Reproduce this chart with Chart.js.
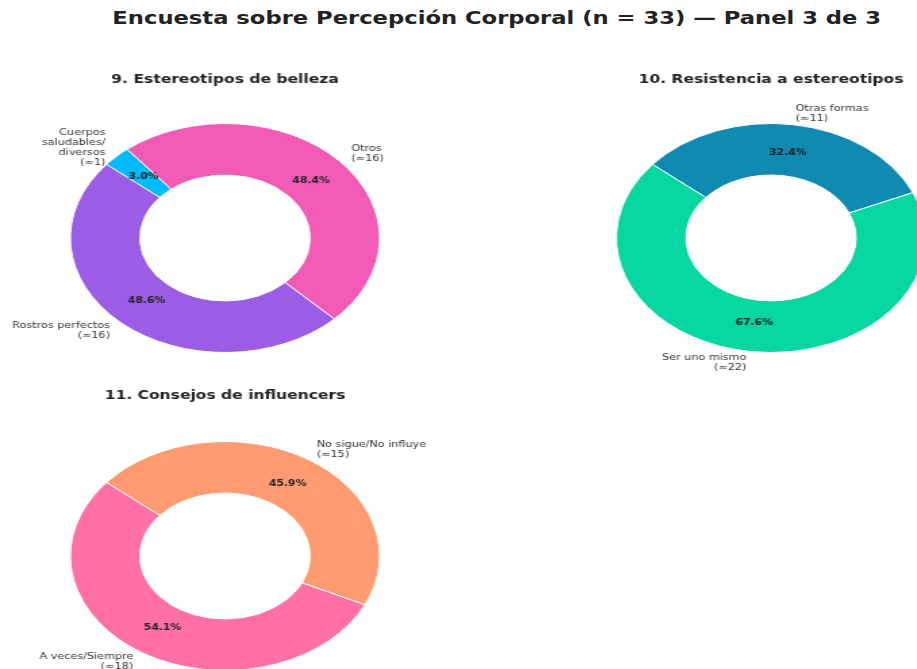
<!DOCTYPE html>
<html>
<head>
<meta charset="utf-8">
<script src="https://cdn.jsdelivr.net/npm/chart.js@4/dist/chart.umd.min.js"></script>
<style>
  html, body { margin: 0; padding: 0; background: #fff; overflow: hidden; width: 917px; height: 669px; }
  #titulo { position: absolute; left: 0; top: 8px; width: 993px; text-align: center;
            font: bold 16.8px "DejaVu Sans", sans-serif; color: #222; white-space: nowrap; }
  #titulo span { display: inline-block; transform: scaleX(1.35); transform-origin: center; }
  canvas { position: absolute; }
</style>
</head>
<body>
<div id="titulo"><span>Encuesta sobre Percepción Corporal (n = 33) — Panel 3 de 3</span></div>
<canvas id="c9"></canvas>
<canvas id="c10"></canvas>
<canvas id="c11"></canvas>
<script>
// --- datos ---
const est_labels = ['Cuerpos\nsaludables/\ndiversos\n(≈1)', 'Otros\n(≈16)', 'Rostros perfectos\n(≈16)'];
const est_values = [3.0, 48.4, 48.6];
const est_colors = ['#00BBF9', '#F15BB5', '#9B5DE5'];

const res_labels = ['Otras formas\n(≈11)', 'Ser uno mismo\n(≈22)'];
const res_values = [32.4, 67.6];
const res_colors = ['#118AB2', '#06D6A0'];

const inf_labels = ['No sigue/No influye\n(≈15)', 'A veces/Siempre\n(≈18)'];
const inf_values = [45.9, 54.1];
const inf_colors = ['#FF9B71', '#FF70A6'];

const SX = 1.35; // la figura original esta estirada en horizontal

// textos de cada dona: titulo, etiquetas fuera y porcentajes dentro
const textosDona = {
    id: 'textosDona',
    afterDraw(chart, args, opts) {
        const ctx = chart.ctx;
        const meta = chart.getDatasetMeta(0);
        const labels = chart.data.labels;
        const vals = chart.data.datasets[0].data;
        ctx.save();
        ctx.fillStyle = '#222';
        ctx.textAlign = 'center';
        ctx.textBaseline = 'middle';
        ctx.font = 'bold 11.5px "DejaVu Sans"';
        const a0 = meta.data[0];
        ctx.fillText(opts.titulo, a0.x, opts.tituloY);

        meta.data.forEach(function (arc, i) {
            const p = arc.getProps(['x', 'y', 'startAngle', 'endAngle', 'outerRadius']);
            const mid = (p.startAngle + p.endAngle) / 2;
            const cx = Math.cos(mid), cy = Math.sin(mid);
            // porcentaje
            ctx.font = 'bold 8px "DejaVu Sans"';
            ctx.textAlign = 'center';
            ctx.fillStyle = '#222';
            ctx.fillText(vals[i].toFixed(1) + '%', p.x + cx * p.outerRadius * 0.75, p.y + cy * p.outerRadius * 0.75);
            // etiqueta
            ctx.font = '8.3px "DejaVu Sans"';
            ctx.fillStyle = '#333';
            ctx.textAlign = cx > 0 ? 'left' : 'right';
            const lx = p.x + cx * p.outerRadius * 1.1;
            const ly = p.y + cy * p.outerRadius * 1.1;
            const lines = labels[i].split('\n');
            const lh = 10;
            lines.forEach(function (t, k) {
                ctx.fillText(t, lx, ly + (k - (lines.length - 1) / 2) * lh);
            });
        });
        ctx.restore();
    }
};

function dona(id, left, top, cssW, h, padTop, labels, values, colors, titulo, tituloY) {
    const cv = document.getElementById(id);
    const w = Math.round(cssW / SX);
    cv.width = w;
    cv.height = h;
    cv.style.left = left + 'px';
    cv.style.top = top + 'px';
    cv.style.width = cssW + 'px';
    cv.style.height = h + 'px';
    new Chart(cv, {
        type: 'doughnut',
        data: {
            labels: labels,
            datasets: [{
                data: values,
                backgroundColor: colors,
                borderColor: '#ffffff',
                borderWidth: 1
            }]
        },
        options: {
            responsive: false,
            animation: false,
            cutout: '55%',
            rotation: -50,
            layout: { padding: { top: padTop, bottom: h - padTop - 230 } },
            plugins: {
                legend: { display: false },
                tooltip: { enabled: false },
                textosDona: { titulo: titulo, tituloY: tituloY }
            }
        },
        plugins: [textosDona]
    });
}

dona('c9', 0, 60, 450, 320, 63, est_labels, est_values, est_colors, '9. Estereotipos de belleza', 20);
dona('c10', 463, 60, 616, 320, 63, res_labels, res_values, res_colors, '10. Resistencia a estereotipos', 20);
dona('c11', 0, 380, 450, 320, 61, inf_labels, inf_values, inf_colors, '11. Consejos de influencers', 16);
</script>
</body>
</html>
